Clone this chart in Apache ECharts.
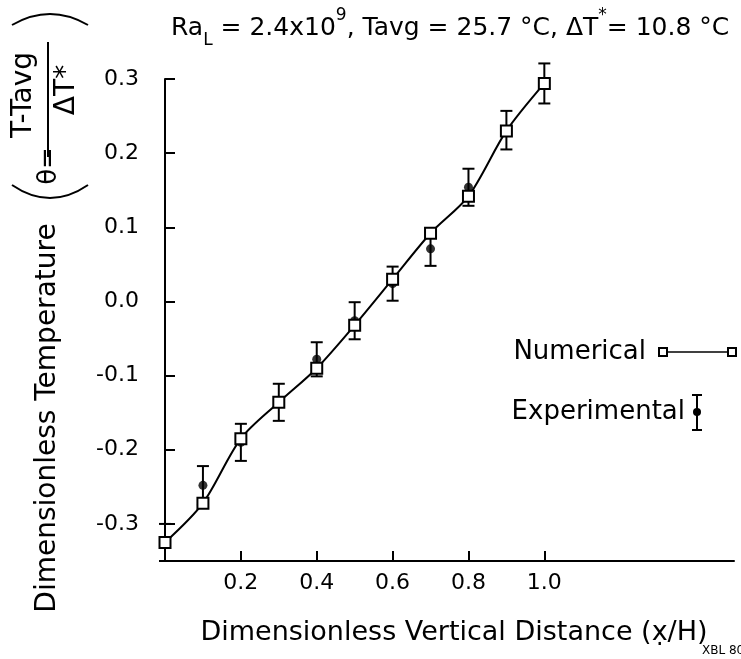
<!DOCTYPE html>
<html>
<head>
<meta charset="utf-8">
<script src="https://cdn.jsdelivr.net/npm/echarts@6/dist/echarts.min.js"></script>
<style>
html, body { margin: 0; padding: 0; background: #fff; }
#chart { width: 741px; height: 659px; }
</style>
</head>
<body>
<div id="chart"></div>
<script>
// 横坐标 x/H
const xValues = [0, 0.1, 0.2, 0.3, 0.4, 0.5, 0.6, 0.7, 0.8, 0.9, 1.0];
// 数值解 (方块)
const numerical = [-0.325, -0.272, -0.185, -0.136, -0.090, -0.032, 0.030, 0.092, 0.142, 0.230, 0.294];
// 实验值 (圆点) 和误差
const experimental = [-0.325, -0.248, -0.190, -0.136, -0.078, -0.026, 0.024, 0.071, 0.154, 0.231, 0.294];
const expError = [0.025, 0.026, 0.025, 0.025, 0.023, 0.025, 0.023, 0.023, 0.025, 0.026, 0.027];
// 刻度
const xTicks = [0.2, 0.4, 0.6, 0.8, 1.0];
const yTicks = [-0.3, -0.2, -0.1, 0.0, 0.1, 0.2, 0.3];

const FONT = 'DejaVu Sans';
const chart = echarts.init(document.getElementById('chart'));

// 误差棒
function renderErrorBar(params, api) {
    const x = api.value(0), y = api.value(1), e = api.value(2);
    const top = api.coord([x, y + e]);
    const bot = api.coord([x, y - e]);
    const w = 6;
    const st = { stroke: '#000', lineWidth: 2 };
    return {
        type: 'group',
        children: [
            { type: 'line', shape: { x1: top[0], y1: top[1], x2: bot[0], y2: bot[1] }, style: st },
            { type: 'line', shape: { x1: top[0] - w, y1: top[1], x2: top[0] + w, y2: top[1] }, style: st },
            { type: 'line', shape: { x1: bot[0] - w, y1: bot[1], x2: bot[0] + w, y2: bot[1] }, style: st }
        ]
    };
}

const option = {
    animation: false,
    backgroundColor: '#fff',
    title: {
        text: '{n|Ra}{sub|L}{n| = 2.4x10}{sup|9}{n|, Tavg = 25.7 °C, ΔT}{sup|*}{n|= 10.8 °C}',
        left: 166,
        top: 2,
        textStyle: {
            fontWeight: 'normal',
            rich: {
                n: { fontFamily: FONT, fontSize: 25, fontWeight: 'normal', color: '#000', lineHeight: 42 },
                sub: { fontFamily: FONT, fontSize: 17, fontWeight: 'normal', color: '#000', verticalAlign: 'bottom', lineHeight: 42 },
                sup: { fontFamily: FONT, fontSize: 17, fontWeight: 'normal', color: '#000', verticalAlign: 'top', lineHeight: 42 }
            }
        }
    },
    grid: { left: 165, right: 7, top: 79, bottom: 98 },
    xAxis: {
        type: 'value',
        min: 0,
        max: 1.5,
        splitLine: { show: false },
        axisLine: { show: true, onZero: false, lineStyle: { color: '#000', width: 2 } },
        axisTick: { show: true, inside: true, length: 10, customValues: xTicks, lineStyle: { color: '#000', width: 2 } },
        axisLabel: {
            customValues: xTicks,
            formatter: v => v.toFixed(1),
            fontFamily: FONT, fontSize: 22, color: '#000', margin: 11
        }
    },
    yAxis: {
        type: 'value',
        min: -0.35,
        max: 0.3,
        splitLine: { show: false },
        axisLine: { show: true, onZero: false, lineStyle: { color: '#000', width: 2 } },
        axisTick: { show: true, inside: true, length: 10, customValues: yTicks, lineStyle: { color: '#000', width: 2 } },
        axisLabel: {
            customValues: yTicks,
            formatter: v => v.toFixed(1),
            fontFamily: FONT, fontSize: 22, color: '#000', margin: 26
        }
    },
    series: [
        {
            name: 'Experimental',
            type: 'custom',
            renderItem: renderErrorBar,
            data: xValues.map((x, i) => [x, experimental[i], expError[i]]),
            z: 2
        },
        {
            name: 'Experimental dots',
            type: 'scatter',
            symbol: 'circle',
            symbolSize: 9,
            itemStyle: { color: '#000' },
            data: xValues.map((x, i) => [x, experimental[i]]),
            z: 3
        },
        {
            name: 'Numerical',
            type: 'line',
            smooth: 0.3,
            symbol: 'rect',
            symbolSize: 11,
            lineStyle: { color: '#000', width: 2 },
            itemStyle: { color: '#fff', borderColor: '#000', borderWidth: 2 },
            data: xValues.map((x, i) => [x, numerical[i]]),
            z: 4
        }
    ],
    graphic: [
        // y 轴标题
        { type: 'text', x: 48, y: 418, rotation: Math.PI / 2,
          style: { text: 'Dimensionless Temperature', font: '28px ' + FONT, fill: '#000', align: 'center', verticalAlign: 'middle' } },
        { type: 'text', x: 24, y: 95, rotation: Math.PI / 2,
          style: { text: 'T-Tavg', font: '28px ' + FONT, fill: '#000', align: 'center', verticalAlign: 'middle' } },
        { type: 'line', shape: { x1: 48, y1: 42, x2: 48, y2: 157 }, style: { stroke: '#000', lineWidth: 2 } },
        { type: 'text', x: 67, y: 90, rotation: Math.PI / 2,
          style: { text: 'ΔT*', font: '28px ' + FONT, fill: '#000', align: 'center', verticalAlign: 'middle' } },
        { type: 'text', x: 49, y: 166, rotation: Math.PI / 2,
          style: { text: 'θ=', font: '26px ' + FONT, fill: '#000', align: 'center', verticalAlign: 'middle' } },
        { type: 'bezierCurve', shape: { x1: 12, y1: 25, cpx1: 50, cpy1: 3, x2: 88, y2: 25 }, style: { stroke: '#000', lineWidth: 2, fill: null } },
        { type: 'bezierCurve', shape: { x1: 12, y1: 185, cpx1: 50, cpy1: 211, x2: 88, y2: 185 }, style: { stroke: '#000', lineWidth: 2, fill: null } },
        // x 轴标题
        { type: 'text', x: 454, y: 633,
          style: { text: 'Dimensionless Vertical Distance (x\u0323/H)', font: '27px ' + FONT, fill: '#000', align: 'center', verticalAlign: 'middle' } },
        { type: 'text', x: 702, y: 651,
          style: { text: 'XBL 802', font: '12px ' + FONT, fill: '#000', align: 'left', verticalAlign: 'middle' } },
        // 图例
        { type: 'text', x: 646, y: 352,
          style: { text: 'Numerical', font: '26px ' + FONT, fill: '#000', align: 'right', verticalAlign: 'middle' } },
        { type: 'line', shape: { x1: 663, y1: 352, x2: 732, y2: 352 }, style: { stroke: '#000', lineWidth: 1.5 } },
        { type: 'rect', shape: { x: 659, y: 348, width: 8, height: 8 }, style: { fill: '#fff', stroke: '#000', lineWidth: 2 } },
        { type: 'rect', shape: { x: 728, y: 348, width: 8, height: 8 }, style: { fill: '#fff', stroke: '#000', lineWidth: 2 } },
        { type: 'text', x: 685, y: 412,
          style: { text: 'Experimental', font: '26px ' + FONT, fill: '#000', align: 'right', verticalAlign: 'middle' } },
        { type: 'line', shape: { x1: 697, y1: 395, x2: 697, y2: 430 }, style: { stroke: '#000', lineWidth: 2 } },
        { type: 'line', shape: { x1: 692, y1: 395, x2: 702, y2: 395 }, style: { stroke: '#000', lineWidth: 2 } },
        { type: 'line', shape: { x1: 692, y1: 430, x2: 702, y2: 430 }, style: { stroke: '#000', lineWidth: 2 } },
        { type: 'circle', shape: { cx: 697, cy: 412, r: 4 }, style: { fill: '#000' } }
    ]
};

chart.setOption(option);
</script>
</body>
</html>
